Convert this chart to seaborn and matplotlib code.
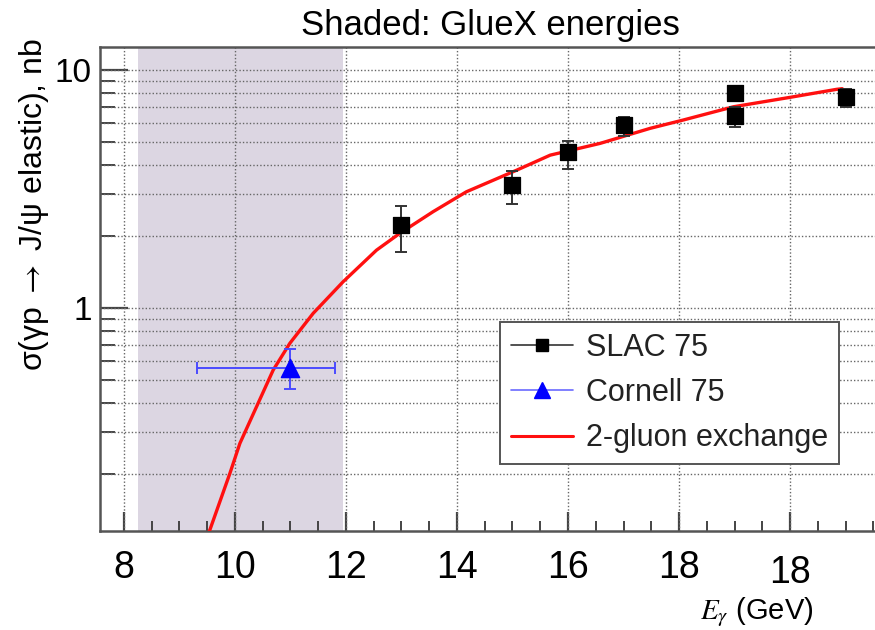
import numpy as np
import pandas as pd
import matplotlib
matplotlib.use("Agg")
import matplotlib.pyplot as plt
import seaborn as sns
from matplotlib.lines import Line2D
from matplotlib.ticker import FixedLocator, NullFormatter
import matplotlib.transforms as mtransforms

# ---- data ----
slac_x = [13.0, 15.0, 16.0, 17.0, 19.0, 19.0, 21.0]
slac_y = [2.23, 3.29, 4.52, 5.87, 8.03, 6.41, 7.72]
slac_lo = [1.72, 2.73, 3.84, 5.28, 7.55, 5.76, 7.00]
slac_hi = [2.68, 3.76, 5.03, 6.35, 8.40, 7.00, 8.32]

cornell_x = [11.0]
cornell_y = [0.56]
cornell_xlo = [9.32]
cornell_xhi = [11.80]
cornell_lo = [0.457]
cornell_hi = [0.673]

curve_x = [9.50, 9.55, 9.91, 10.09, 10.39, 10.69, 10.99, 11.41, 11.95, 12.55,
           12.97, 13.57, 14.17, 15.08, 15.68, 16.58, 17.48, 18.08, 18.98,
           20.0, 20.84, 20.94]
curve_y = [0.110, 0.117, 0.202, 0.270, 0.385, 0.549, 0.711, 0.95, 1.29, 1.75,
           2.06, 2.54, 3.08, 3.80, 4.39, 4.92, 5.69, 6.17, 7.01,
           7.68, 8.30, 8.35]

shade_range = [8.25, 11.95]
xtick_pos = [8, 10, 12, 14, 16, 18, 20]
xtick_labels = ["8", "10", "12", "14", "16", "18", "18"]
title_text = "Shaded: GlueX energies"
ylabel_text = r"σ(γp $\rightarrow$ J/ψ elastic), nb"

# ---- figure ----
sns.set_theme(style="white")
plt.rcParams['font.family'] = ['Liberation Sans', 'DejaVu Sans']
plt.rcParams['mathtext.fontset'] = 'stix'

W, H = 875, 630
fig = plt.figure(figsize=(W / 100, H / 100), dpi=100)
ax = fig.add_axes([100 / W, (H - 531) / H, 780 / W, (531 - 47) / H])

ax.set_yscale("log")
ax.set_xlim(7.57, 21.62)
ax.set_ylim(0.1156, 12.5)

ax.axvspan(shade_range[0], shade_range[1], color="#dcd6e2", zorder=0, lw=0)

# grid
for xv in xtick_pos:
    ax.axvline(xv, color="#666666", ls=(0, (1, 1.5)), lw=1.0, zorder=1)
ygrid = [v * d for d in (0.1, 1.0) for v in range(2, 10)] + [1, 10]
for yv in ygrid:
    if 0.1156 < yv < 12.5:
        ax.axhline(yv, color="#666666", ls=(0, (1, 1.5)), lw=1.0, zorder=1)

# curve
df_curve = pd.DataFrame({"E": curve_x, "sigma": curve_y})
sns.lineplot(data=df_curve, x="E", y="sigma", color="#ff1010", lw=2.4,
             ax=ax, zorder=4, legend=False)

# SLAC
sy = np.array(slac_y)
ax.errorbar(slac_x, slac_y,
            yerr=[sy - np.array(slac_lo), np.array(slac_hi) - sy],
            fmt="none", ecolor="#333333", elinewidth=1.4, capsize=4, capthick=1.4, zorder=5)
df_slac = pd.DataFrame({"E": slac_x, "sigma": slac_y})
sns.scatterplot(data=df_slac, x="E", y="sigma", marker="s", s=130, color="black",
                edgecolor="black", ax=ax, zorder=6, legend=False)

# Cornell
cy = np.array(cornell_y)
cx = np.array(cornell_x)
ax.errorbar(cornell_x, cornell_y,
            xerr=[cx - np.array(cornell_xlo), np.array(cornell_xhi) - cx],
            yerr=[cy - np.array(cornell_lo), np.array(cornell_hi) - cy],
            fmt="none", ecolor="#4b4bff", elinewidth=1.4, capsize=4, capthick=1.4, zorder=5)
df_corn = pd.DataFrame({"E": cornell_x, "sigma": cornell_y})
sns.scatterplot(data=df_corn, x="E", y="sigma", marker="^", s=170, color="#0000ff",
                edgecolor="#0000ff", ax=ax, zorder=6, legend=False)

# axes styling
for side in ["left", "bottom", "top", "right"]:
    ax.spines[side].set_color("#555555")
    ax.spines[side].set_linewidth(1.8)

ax.set_xticks(xtick_pos)
ax.set_xticklabels(xtick_labels)
ax.xaxis.set_minor_locator(FixedLocator(np.arange(7.5, 21.6, 0.5)))
ax.tick_params(axis="x", which="major", direction="in", length=14, width=1.6,
               color="#444444", labelsize=27, pad=14, labelcolor="black",
               bottom=True)
ax.tick_params(axis="x", which="minor", direction="in", length=7, width=1.4,
               color="#444444", bottom=True)
# offset last label downward
lbls = ax.get_xticklabels()
off = mtransforms.ScaledTranslation(0, -5 / 100, fig.dpi_scale_trans)
lbls[-1].set_transform(lbls[-1].get_transform() + off)

ax.yaxis.set_major_locator(FixedLocator([1, 10]))
ax.set_yticklabels(["1", "10"])
ax.yaxis.set_minor_locator(FixedLocator([v * d for d in (0.1, 1.0) for v in range(2, 10)]))
ax.yaxis.set_minor_formatter(NullFormatter())
ax.tick_params(axis="y", which="major", direction="in", length=20, width=1.6,
               color="#444444", labelsize=24, pad=6, labelcolor="black", left=True)
ax.tick_params(axis="y", which="minor", direction="in", length=11, width=1.4,
               color="#444444", left=True)
ax.tick_params(top=False, right=False, which="both")

ax.set_xlabel("")
ax.set_ylabel("")

# legend
handles = [
    Line2D([0], [0], color="#333333", lw=1.2, marker="s", markersize=8,
           markerfacecolor="black", markeredgecolor="black"),
    Line2D([0], [0], color="#6a6aff", lw=1.2, marker="^", markersize=11,
           markerfacecolor="#0000ff", markeredgecolor="#0000ff"),
    Line2D([0], [0], color="#ff1010", lw=2.2),
]
leg = ax.legend(handles, ["SLAC 75", "Cornell 75", "2-gluon exchange"],
                loc="upper left", bbox_to_anchor=((500 - 100) / 780, (531 - 322) / 484),
                fontsize=22, frameon=True, fancybox=False, framealpha=1,
                edgecolor="#555555", handlelength=2.05, handletextpad=0.42,
                labelspacing=0.5, borderpad=0.35, borderaxespad=0)
leg.get_frame().set_linewidth(1.4)
for t in leg.get_texts():
    t.set_color("#222222")

# texts
fig.text(490 / W, 1 - 25 / H, title_text, ha="center", va="center", fontsize=25,
         color="black")
fig.text(34 / W, 1 - 205 / H, ylabel_text, ha="center", va="center",
         rotation=90, fontsize=23, color="black")
fig.text(757 / W, 1 - 612 / H, r"$E_\gamma$ (GeV)", ha="center", va="center",
         fontsize=21, color="black")

fig.savefig("out.png", dpi=100)
